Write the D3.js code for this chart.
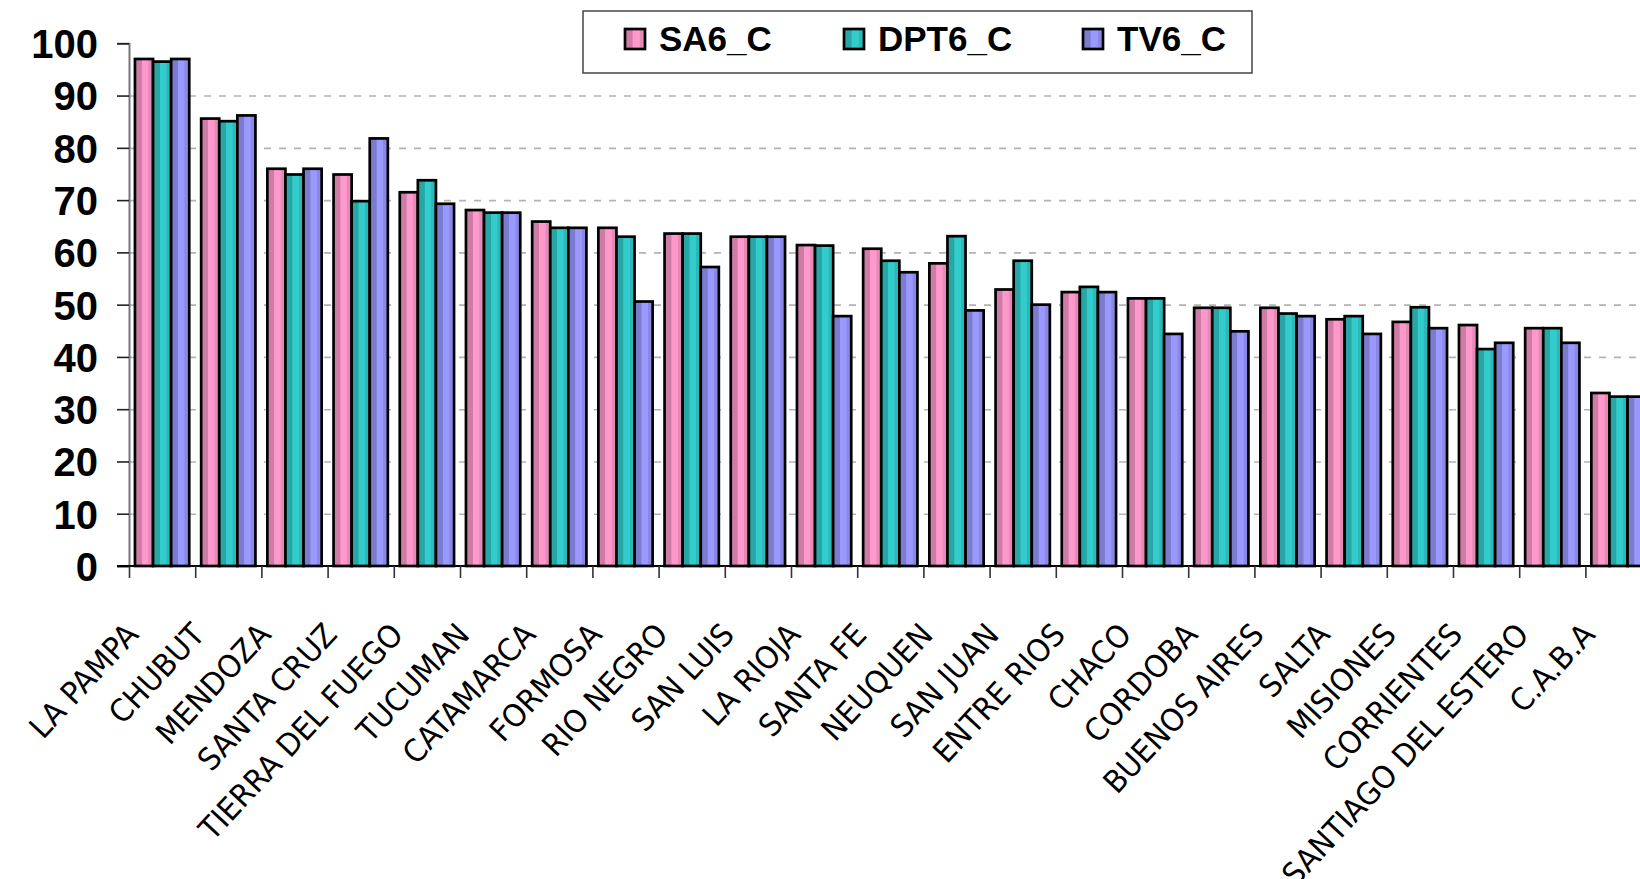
<!DOCTYPE html>
<html>
<head>
<meta charset="utf-8">
<script src="https://cdn.jsdelivr.net/npm/d3@7"></script>
<style>
  html, body { margin: 0; padding: 0; background: #ffffff; overflow: hidden; }
  svg { display: block; }
</style>
</head>
<body>
<svg id="chart" width="1640" height="879"></svg>
<script>
const categories = ["LA PAMPA","CHUBUT","MENDOZA","SANTA CRUZ","TIERRA DEL FUEGO","TUCUMAN","CATAMARCA","FORMOSA","RIO NEGRO","SAN LUIS","LA RIOJA","SANTA FE","NEUQUEN","SAN JUAN","ENTRE RIOS","CHACO","CORDOBA","BUENOS AIRES","SALTA","MISIONES","CORRIENTES","SANTIAGO DEL ESTERO","C.A.B.A"];
const seriesNames = ["SA6_C","DPT6_C","TV6_C"];
const SA6_C  = [97.0, 85.6, 76.0, 74.9, 71.5, 68.1, 65.9, 64.7, 63.6, 63.0, 61.4, 60.7, 57.9, 52.9, 52.4, 51.2, 49.4, 49.4, 47.2, 46.7, 46.1, 45.5, 33.1];
const DPT6_C = [96.5, 85.1, 74.9, 69.8, 73.8, 67.6, 64.7, 63.0, 63.6, 63.0, 61.3, 58.4, 63.1, 58.4, 53.4, 51.2, 49.4, 48.3, 47.8, 49.5, 41.5, 45.5, 32.4];
const TV6_C  = [97.0, 86.2, 76.0, 81.8, 69.3, 67.6, 64.7, 50.6, 57.2, 63.0, 47.8, 56.2, 48.9, 50.0, 52.4, 44.4, 44.9, 47.8, 44.4, 45.5, 42.7, 42.7, 32.4];
const yTicks = [0,10,20,30,40,50,60,70,80,90,100];
const gridTicks = [10,20,30,40,50,60,70,80,90];
const seriesValues = [SA6_C, DPT6_C, TV6_C];
const seriesColors = ["#ff99cc", "#33cccc", "#9999ff"];

(function () {
const svg = d3.select("#chart");
const plotLeft = 129, plotBottom = 566, plotTop = 43.3, step = 66.2;
const plotRight = plotLeft + step * categories.length;

const y = d3.scaleLinear().domain([0, 100]).range([plotBottom, plotTop]);
const x0 = d3.scaleBand().domain(categories).range([plotLeft, plotRight]).paddingInner(0.18).paddingOuter(0.09);
const x1 = d3.scaleBand().domain(seriesNames).range([0, x0.bandwidth()]);
const xEdges = d3.scaleLinear().domain([0, categories.length]).range([plotLeft, plotRight]);

// gradients
const defs = svg.append("defs");
seriesColors.forEach((c, i) => {
  const base = d3.rgb(c);
  const dark = base.darker(0.6), mid = base.darker(0.3), edge = base.darker(0.9);
  const g = defs.append("linearGradient").attr("id", "grad" + i)
    .attr("x1", "0%").attr("x2", "100%").attr("y1", "0%").attr("y2", "0%");
  [[0, dark],[0.36, dark],[0.40, base],[0.72, base],[0.76, mid],[0.95, mid],[1, edge]].forEach(([o, col]) => {
    g.append("stop").attr("offset", o).attr("stop-color", col.formatHex());
  });
});

// gridlines
svg.append("g")
  .attr("transform", `translate(${plotLeft},0)`)
  .call(d3.axisLeft(y).tickValues(gridTicks).tickSize(-(1640 - plotLeft)).tickFormat(""))
  .call(g => g.select(".domain").remove())
  .call(g => g.selectAll("line").attr("stroke", "#b3b3b3").attr("stroke-width", 1.6).attr("stroke-dasharray", "7,8"));

// bars
const groups = svg.append("g").selectAll("g")
  .data(categories)
  .join("g")
  .attr("transform", d => `translate(${x0(d)},0)`);

groups.selectAll("rect")
  .data((d, ci) => seriesNames.map((s, si) => ({ s, si, v: seriesValues[si][ci] })))
  .join("rect")
  .attr("x", d => x1(d.s))
  .attr("y", d => y(d.v))
  .attr("width", x1.bandwidth())
  .attr("height", d => y(0) - y(d.v))
  .attr("fill", d => `url(#grad${d.si})`)
  .attr("stroke", "#000")
  .attr("stroke-width", 2.7);

// y axis
svg.append("g")
  .attr("transform", `translate(${plotLeft},0)`)
  .call(d3.axisLeft(y).tickValues(yTicks).tickSize(12).tickPadding(19).tickFormat(d => d))
  .call(g => g.select(".domain").attr("stroke", "#777").attr("stroke-width", 2))
  .call(g => g.selectAll(".tick line").attr("stroke", "#222").attr("stroke-width", 1.6))
  .call(g => g.selectAll("text")
    .attr("font-family", "'Liberation Sans', Arial, sans-serif")
    .attr("font-weight", "bold").attr("font-size", 40).attr("fill", "#000").attr("dy", "0.36em"));

// x axis (ticks at category boundaries)
svg.append("g")
  .attr("transform", `translate(0,${plotBottom})`)
  .call(d3.axisBottom(xEdges).tickValues(d3.range(0, categories.length + 1)).tickSize(12).tickFormat(""))
  .call(g => g.select(".domain").attr("stroke", "#000").attr("stroke-width", 2.2).attr("d", `M${plotLeft - 12},0H${plotRight}`))
  .call(g => g.selectAll(".tick line").attr("stroke", "#333").attr("stroke-width", 1.6));

// x labels
svg.append("g").selectAll("text")
  .data(categories)
  .join("text")
  .attr("transform", d => `translate(${x0(d) + x0.bandwidth() / 2 - 22},${636}) rotate(-47) scale(0.94,1)`)
  .attr("text-anchor", "end")
  .attr("font-family", "'DejaVu Sans', Verdana, sans-serif")
  .attr("font-size", 31)
  .attr("fill", "#000")
  .text(d => d);

// legend
const legend = svg.append("g");
legend.append("rect")
  .attr("x", 583).attr("y", 11).attr("width", 669).attr("height", 62)
  .attr("fill", "#fff").attr("stroke", "#444").attr("stroke-width", 1.5);
const legendX = [624, 843, 1082];
seriesNames.forEach((s, i) => {
  legend.append("rect")
    .attr("x", legendX[i] + 1).attr("y", 29).attr("width", 20).attr("height", 20)
    .attr("fill", `url(#grad${i})`).attr("stroke", "#000").attr("stroke-width", 2.7);
  legend.append("text")
    .attr("x", legendX[i] + 35).attr("y", 51)
    .attr("font-family", "'Liberation Sans', Arial, sans-serif")
    .attr("font-weight", "bold").attr("font-size", 35).attr("fill", "#000")
    .text(s);
});
})();
</script>
</body>
</html>
